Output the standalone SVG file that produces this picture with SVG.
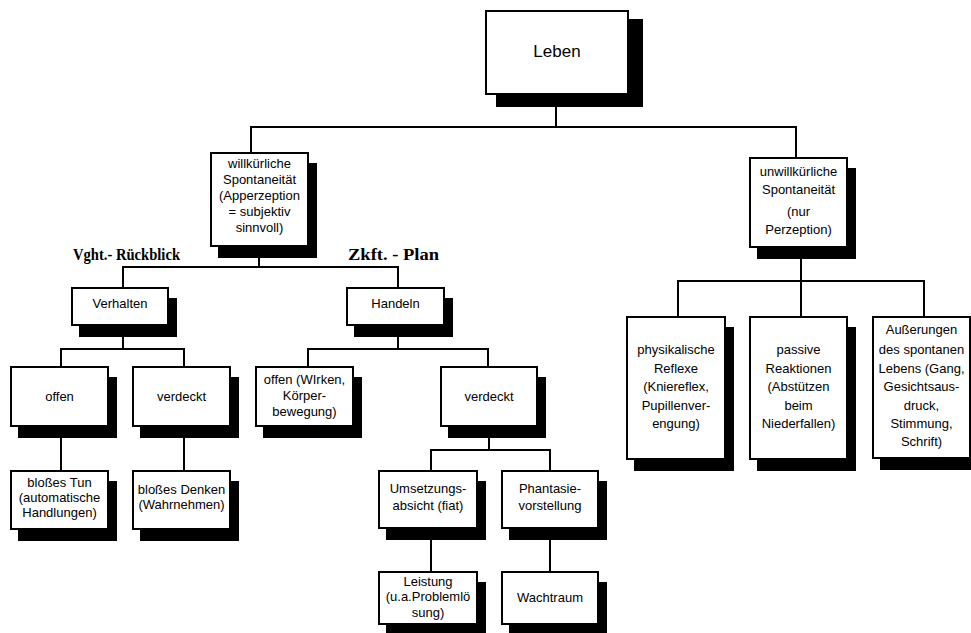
<svg xmlns="http://www.w3.org/2000/svg" width="971" height="633" viewBox="0 0 971 633">
<style>
.box{fill:#fff;stroke:#000;stroke-width:2}
.sh{fill:#000}
.t{font-family:"Liberation Sans",Arial,sans-serif;font-size:13px;text-anchor:middle;fill:#000}
.lbl{font-family:"Liberation Serif","Times New Roman",serif;font-weight:bold;font-size:16px;fill:#000}
.con{fill:none;stroke:#000;stroke-width:2;stroke-linecap:square}
</style>
<rect width="971" height="633" fill="#fff"/>
<g id="connectors">
<path class="con" d="M556,94V127 M251,127H796 M251,127V153 M796,127V158 M259,246V267 M123,267H398 M123,267V288 M398,267V288 M123,325V349 M61,349H184 M61,349V367 M184,349V367 M398,325V349 M308,349H488 M308,349V367 M488,349V367 M61,426V471 M184,426V471 M489,426V450 M431,450H550 M431,450V471 M550,450V471 M431,528V572 M550,528V572 M801,247V281 M678,281H924 M678,281V317 M801,281V317 M924,281V317"/>
</g>
<g id="leben">
<rect class="sh" x="496" y="19" width="147" height="88"/>
<rect class="box" x="486" y="11" width="142" height="83"/>
<text class="t" x="557" y="57" style="font-size:17px">Leben</text>
</g>
<g id="willkuerlich">
<rect class="sh" x="218" y="163" width="99" height="95"/>
<rect class="box" x="211" y="153" width="97" height="93"/>
<text class="t" x="259.5" y="168">willkürliche</text>
<text class="t" x="259.5" y="184">Spontaneität</text>
<text class="t" x="259.5" y="200">(Apperzeption</text>
<text class="t" x="259.5" y="216">= subjektiv</text>
<text class="t" x="259.5" y="232">sinnvoll)</text>
</g>
<g id="label-vght">
<text class="lbl" x="73" y="260" textLength="107" lengthAdjust="spacingAndGlyphs">Vght.- Rückblick</text>
</g>
<g id="label-zkft">
<text class="lbl" x="348" y="260" textLength="91" lengthAdjust="spacingAndGlyphs">Zkft. - Plan</text>
</g>
<g id="verhalten">
<rect class="sh" x="79" y="298" width="98" height="39"/>
<rect class="box" x="72" y="288" width="96" height="37"/>
<text class="t" x="120" y="308">Verhalten</text>
</g>
<g id="handeln">
<rect class="sh" x="354" y="298" width="99" height="39"/>
<rect class="box" x="347" y="288" width="97" height="37"/>
<text class="t" x="395.5" y="308">Handeln</text>
</g>
<g id="offen">
<rect class="sh" x="18" y="377" width="99" height="61"/>
<rect class="box" x="11" y="367" width="97" height="59"/>
<text class="t" x="59.5" y="401">offen</text>
</g>
<g id="verdeckt1">
<rect class="sh" x="140" y="377" width="99" height="61"/>
<rect class="box" x="133" y="367" width="97" height="59"/>
<text class="t" x="181.5" y="401">verdeckt</text>
</g>
<g id="offen-wirken">
<rect class="sh" x="263" y="377" width="99" height="61"/>
<rect class="box" x="256" y="367" width="97" height="59"/>
<text class="t" x="304.5" y="384">offen (WIrken,</text>
<text class="t" x="304.5" y="400">Körper-</text>
<text class="t" x="304.5" y="416">bewegung)</text>
</g>
<g id="verdeckt2">
<rect class="sh" x="448" y="377" width="98" height="61"/>
<rect class="box" x="441" y="367" width="96" height="59"/>
<text class="t" x="489" y="401">verdeckt</text>
</g>
<g id="blosses-tun">
<rect class="sh" x="18" y="481" width="99" height="60"/>
<rect class="box" x="11" y="471" width="97" height="58"/>
<text class="t" x="59.5" y="487">bloßes Tun</text>
<text class="t" x="59.5" y="502">(automatische</text>
<text class="t" x="59.5" y="517">Handlungen)</text>
</g>
<g id="blosses-denken">
<rect class="sh" x="140" y="481" width="99" height="60"/>
<rect class="box" x="133" y="471" width="97" height="58"/>
<text class="t" x="181.5" y="494">bloßes Denken</text>
<text class="t" x="181.5" y="509">(Wahrnehmen)</text>
</g>
<g id="umsetzung">
<rect class="sh" x="386" y="481" width="100" height="59"/>
<rect class="box" x="379" y="471" width="98" height="57"/>
<text class="t" x="428" y="493">Umsetzungs-</text>
<text class="t" x="428" y="510">absicht (fiat)</text>
</g>
<g id="phantasie">
<rect class="sh" x="509" y="481" width="98" height="59"/>
<rect class="box" x="502" y="471" width="96" height="57"/>
<text class="t" x="550" y="493">Phantasie-</text>
<text class="t" x="550" y="510">vorstellung</text>
</g>
<g id="leistung">
<rect class="sh" x="386" y="582" width="100" height="52"/>
<rect class="box" x="379" y="572" width="98" height="52"/>
<text class="t" x="428" y="586">Leistung</text>
<text class="t" x="428" y="601">(u.a.Problemlö</text>
<text class="t" x="428" y="617">sung)</text>
</g>
<g id="wachtraum">
<rect class="sh" x="509" y="582" width="98" height="52"/>
<rect class="box" x="502" y="572" width="96" height="52"/>
<text class="t" x="550" y="602">Wachtraum</text>
</g>
<g id="unwillkuerlich">
<rect class="sh" x="757" y="168" width="99" height="91"/>
<rect class="box" x="750" y="158" width="97" height="89"/>
<text class="t" x="798.5" y="176">unwillkürliche</text>
<text class="t" x="798.5" y="194">Spontaneität</text>
<text class="t" x="798.5" y="216">(nur</text>
<text class="t" x="798.5" y="234">Perzeption)</text>
</g>
<g id="physikalisch">
<rect class="sh" x="634" y="327" width="100" height="144"/>
<rect class="box" x="627" y="317" width="98" height="142"/>
<text class="t" x="676" y="354">physikalische</text>
<text class="t" x="676" y="373">Reflexe</text>
<text class="t" x="676" y="391">(Kniereflex,</text>
<text class="t" x="676" y="410">Pupillenver-</text>
<text class="t" x="676" y="428">engung)</text>
</g>
<g id="passiv">
<rect class="sh" x="757" y="327" width="99" height="144"/>
<rect class="box" x="750" y="317" width="97" height="142"/>
<text class="t" x="798.5" y="354">passive</text>
<text class="t" x="798.5" y="373">Reaktionen</text>
<text class="t" x="798.5" y="391">(Abstützen</text>
<text class="t" x="798.5" y="410">beim</text>
<text class="t" x="798.5" y="428">Niederfallen)</text>
</g>
<g id="aeusserungen">
<rect class="sh" x="880" y="327" width="99" height="143"/>
<rect class="box" x="873" y="317" width="97" height="141"/>
<text class="t" x="921.5" y="334">Außerungen</text>
<text class="t" x="921.5" y="354">des spontanen</text>
<text class="t" x="921.5" y="373">Lebens (Gang,</text>
<text class="t" x="921.5" y="391">Gesichtsaus-</text>
<text class="t" x="921.5" y="410">druck,</text>
<text class="t" x="921.5" y="428">Stimmung,</text>
<text class="t" x="921.5" y="446">Schrift)</text>
</g>
</svg>
